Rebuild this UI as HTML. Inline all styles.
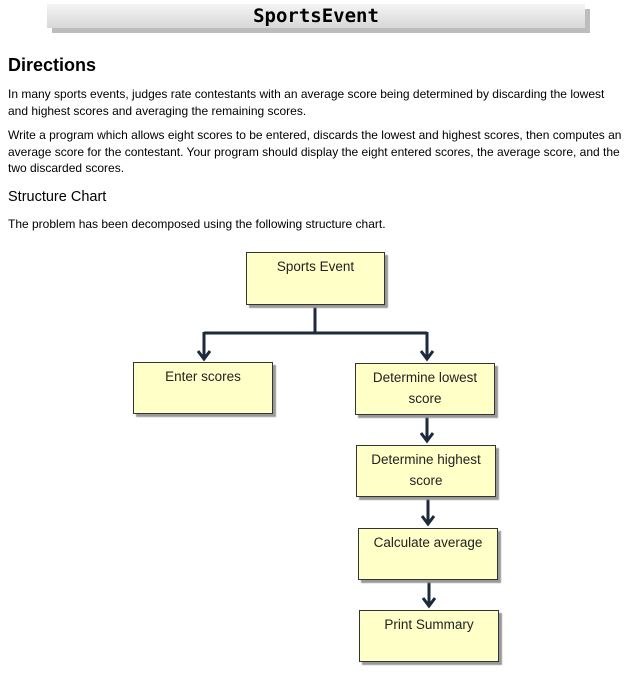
<!DOCTYPE html>
<html><head><style>
body{margin:0;width:626px;height:685px;background:#fff;font-family:"Liberation Sans",sans-serif;color:#000;position:relative;overflow:hidden}
.title{position:absolute;left:47px;top:4px;width:538px;height:24px;background:linear-gradient(#f4f4f4,#d8d8d8);box-shadow:5px 5px 0 #bdbdbd;text-align:center;font-family:"DejaVu Sans Mono","Liberation Mono",monospace;font-size:19px;line-height:24px;font-weight:bold}
h2{position:absolute;left:8px;top:55px;margin:0;font-size:18px;font-weight:bold}
p{position:absolute;left:8px;margin:0;font-size:12px;line-height:16.5px;width:615px}
.h3{position:absolute;left:8px;top:189px;font-size:14.5px}
.b{position:absolute;width:138px;height:51px;background:#ffffc8;border:1px solid #333;box-shadow:3px 3px 1px #999;text-align:center;font-size:13.5px;line-height:21px;padding-top:3px;box-sizing:border-box;color:#222}
</style></head><body>
<div class="title">SportsEvent</div>
<h2>Directions</h2>
<p style="top:86px">In many sports events, judges rate contestants with an average score being determined by discarding the lowest and highest scores and averaging the remaining scores.</p>
<p style="top:127px">Write a program which allows eight scores to be entered, discards the lowest and highest scores, then computes an average score for the contestant. Your program should display the eight entered scores, the average score, and the two discarded scores.</p>
<div class="h3">Structure Chart</div>
<p style="top:216px">The problem has been decomposed using the following structure chart.</p>
<svg style="position:absolute;left:0;top:0" width="626" height="685">
<g stroke="#1c2a3c" stroke-width="3" fill="none">
<path d="M315 305V333M204 333H427M204 332V358M427 332V358M427 415V440M428 497V523M429 580V605"/>
<path d="M198 351L204 359L210 351M421 351L427 359L433 351M421 433L427 441L433 433M422 516L428 524L434 516M423 598L429 606L435 598"/>
</g></svg>
<div class="b" style="left:246px;top:252px;width:139px;height:53px">Sports Event</div>
<div class="b" style="left:133px;top:362px;width:140px;height:52px">Enter scores</div>
<div class="b" style="left:355px;top:363px;width:140px;height:52px">Determine lowest<br>score</div>
<div class="b" style="left:356px;top:445px;width:140px;height:52px">Determine highest<br>score</div>
<div class="b" style="left:358px;top:528px;width:140px;height:52px">Calculate average</div>
<div class="b" style="left:359px;top:610px;width:140px;height:52px">Print Summary</div>
</body></html>
